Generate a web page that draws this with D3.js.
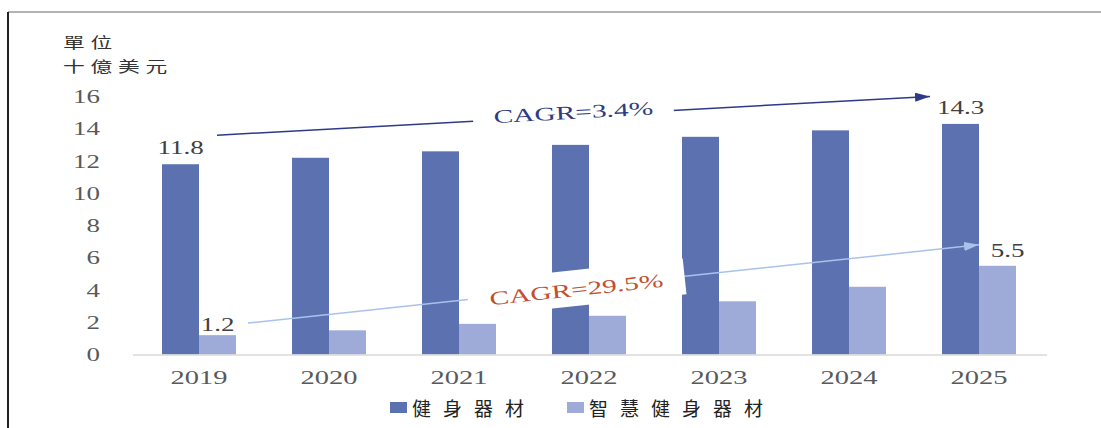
<!DOCTYPE html>
<html>
<head>
<meta charset="utf-8">
<script src="https://cdn.jsdelivr.net/npm/d3@7/dist/d3.min.js"></script>
<style>
  html, body { margin: 0; padding: 0; background: #fff; }
  svg { display: block; }
</style>
</head>
<body>
<div id="chart"></div>
<script>
// Market size, fitness equipment vs. smart fitness equipment (billion USD)
const years = ["2019", "2020", "2021", "2022", "2023", "2024", "2025"];
const fitnessEquip = [11.8, 12.2, 12.6, 13.0, 13.5, 13.9, 14.3];
const smartFitnessEquip = [1.2, 1.5, 1.9, 2.4, 3.3, 4.2, 5.5];
const seriesNames = ["健身器材", "智慧健身器材"];
const yTicks = [0, 2, 4, 6, 8, 10, 12, 14, 16];
const unitLines = ["單位", "十億美元"];
const cagrTexts = ["CAGR=3.4%", "CAGR=29.5%"];

const W = 1101, H = 428;
const SX = 1.5;                       // horizontal stretch applied to text
const serif = "'Liberation Serif', 'Times New Roman', serif";
const cjk = "'Noto Sans CJK TC', 'Noto Sans CJK SC', sans-serif";
const colors = ["#5C72B0", "#9EABD8"];

const svg = d3.select("#chart").append("svg")
  .attr("width", W).attr("height", H);

// frame
svg.append("line").attr("x1", 8).attr("x2", W).attr("y1", 12).attr("y2", 12)
  .attr("stroke", "#9a9a9a").attr("stroke-width", 1.5);
svg.append("line").attr("x1", 8).attr("x2", 8).attr("y1", 12).attr("y2", H)
  .attr("stroke", "#222").attr("stroke-width", 2);

// scales
const x0 = d3.scaleBand().domain(years).range([134, 1044])
  .paddingInner(0.431).paddingOuter(0.2155);
const x1 = d3.scaleBand().domain([0, 1]).range([0, x0.bandwidth()]);
const y = d3.scaleLinear().domain([0, 16]).range([354.5, 96.5]);

// y axis labels
const yAxis = svg.append("g").attr("transform", "translate(100,0)")
  .call(d3.axisLeft(y).tickValues(yTicks).tickSize(0).tickPadding(0));
yAxis.select(".domain").remove();
yAxis.selectAll("text")
  .attr("font-family", serif).attr("font-size", 18).attr("fill", "#595959")
  .attr("dy", "0.34em").attr("transform", `scale(${SX},1)`);

// unit title
svg.selectAll("text.unit").data(unitLines).join("text")
  .attr("class", "unit")
  .attr("transform", (d, i) => `translate(63,${48 + i * 24}) scale(1.45,1)`)
  .attr("font-family", cjk).attr("font-size", 15).attr("letter-spacing", 4)
  .attr("fill", "#333").text(d => d);

// bars
const rows = years.map((yr, i) => ({ yr, vals: [fitnessEquip[i], smartFitnessEquip[i]] }));
const groups = svg.append("g").selectAll("g").data(rows).join("g")
  .attr("transform", d => `translate(${x0(d.yr)},0)`);
groups.selectAll("rect").data(d => d.vals.map((v, k) => ({ v, k }))).join("rect")
  .attr("x", d => x1(d.k)).attr("width", x1.bandwidth())
  .attr("y", d => y(d.v)).attr("height", d => y(0) - y(d.v))
  .attr("fill", d => colors[d.k]);

// baseline
svg.append("line").attr("x1", 133).attr("x2", 1047)
  .attr("y1", y(0) + 0.5).attr("y2", y(0) + 0.5)
  .attr("stroke", "#d9d9d9").attr("stroke-width", 1.5);

// x axis labels
const xAxis = svg.append("g").attr("transform", `translate(0,${y(0)})`)
  .call(d3.axisBottom(x0).tickSize(0));
xAxis.select(".domain").remove();
xAxis.selectAll("text")
  .attr("y", 30).attr("dy", 0)
  .attr("font-family", serif).attr("font-size", 19).attr("fill", "#595959")
  .attr("transform", `scale(${SX},1)`)
  .attr("x", 0);
xAxis.selectAll(".tick").each(function () {
  // keep stretched text centred on the tick
  d3.select(this).select("text").attr("transform", `scale(${SX},1)`);
});

// end-point value labels
const bw = x1.bandwidth();
const endLabels = [
  { v: fitnessEquip[0], cx: x0(years[0]) + bw / 2, gap: 10 },
  { v: fitnessEquip[6], cx: x0(years[6]) + bw / 2, gap: 10 },
  { v: smartFitnessEquip[0], cx: x0(years[0]) + bw * 1.5, gap: 4 },
  { v: smartFitnessEquip[6], cx: x0(years[6]) + bw * 1.5 + 10, gap: 9 }
];
svg.selectAll("text.val").data(endLabels).join("text")
  .attr("class", "val")
  .attr("transform", d => `translate(${d.cx},${y(d.v) - d.gap}) scale(${SX},1)`)
  .attr("text-anchor", "middle")
  .attr("font-family", serif).attr("font-size", 18).attr("fill", "#404040")
  .text(d => d.v.toFixed(1));

// growth arrows
const defs = svg.append("defs");
const arrowColors = ["#2E3A88", "#A9C2EC"];
arrowColors.forEach((c, i) => {
  defs.append("marker").attr("id", "head" + i)
    .attr("markerUnits", "userSpaceOnUse")
    .attr("viewBox", "0 0 15 9").attr("markerWidth", 15).attr("markerHeight", 9)
    .attr("refX", 15).attr("refY", 4.5).attr("orient", "auto")
    .append("path").attr("d", "M0,0 L15,4.5 L0,9 Z").attr("fill", c);
});

const arrows = [
  { x1: x0(years[0]) + bw + 18, y1: y(13.6), x2: x0(years[6]) - 12, y2: y(16.0),
    text: cagrTexts[0], color: "#2F3C84", boxW: 201, base: 3, t: 0.5 },
  { x1: x0(years[0]) + bw * 2 + 12, y1: y(1.95), x2: x0(years[6]) + bw, y2: y(6.8),
    text: cagrTexts[1], color: "#C0502F", boxW: 218, base: 8, t: 0.449 }
];

arrows.forEach((a, i) => {
  svg.append("line")
    .attr("x1", a.x1).attr("y1", a.y1).attr("x2", a.x2).attr("y2", a.y2)
    .attr("stroke", arrowColors[i]).attr("stroke-width", 1.5)
    .attr("marker-end", `url(#head${i})`);
  const ang = Math.atan2(a.y2 - a.y1, a.x2 - a.x1) * 180 / Math.PI;
  const cx = a.x1 + (a.x2 - a.x1) * a.t;
  const cy = a.y1 + (a.y2 - a.y1) * a.t;
  const g = svg.append("g").attr("transform", `translate(${cx},${cy}) rotate(${ang})`);
  g.append("rect").attr("x", -a.boxW / 2).attr("y", -18)
    .attr("width", a.boxW).attr("height", 36).attr("fill", "#fff");
  g.append("text")
    .attr("transform", `translate(0,${a.base}) scale(1.55,1)`)
    .attr("text-anchor", "middle")
    .attr("font-family", serif).attr("font-size", 19).attr("fill", a.color)
    .text(a.text);
});

// legend
const legend = svg.append("g").attr("transform", "translate(390,0)");
const items = legend.selectAll("g").data(seriesNames).join("g")
  .attr("transform", (d, i) => `translate(${i * 177},0)`);
items.append("rect").attr("x", 0).attr("y", 402).attr("width", 17).attr("height", 11)
  .attr("fill", (d, i) => colors[i]);
items.append("text").attr("x", 22).attr("y", 416)
  .attr("font-family", cjk).attr("font-size", 19).attr("letter-spacing", 12)
  .attr("fill", "#222").text(d => d);
</script>
</body>
</html>
